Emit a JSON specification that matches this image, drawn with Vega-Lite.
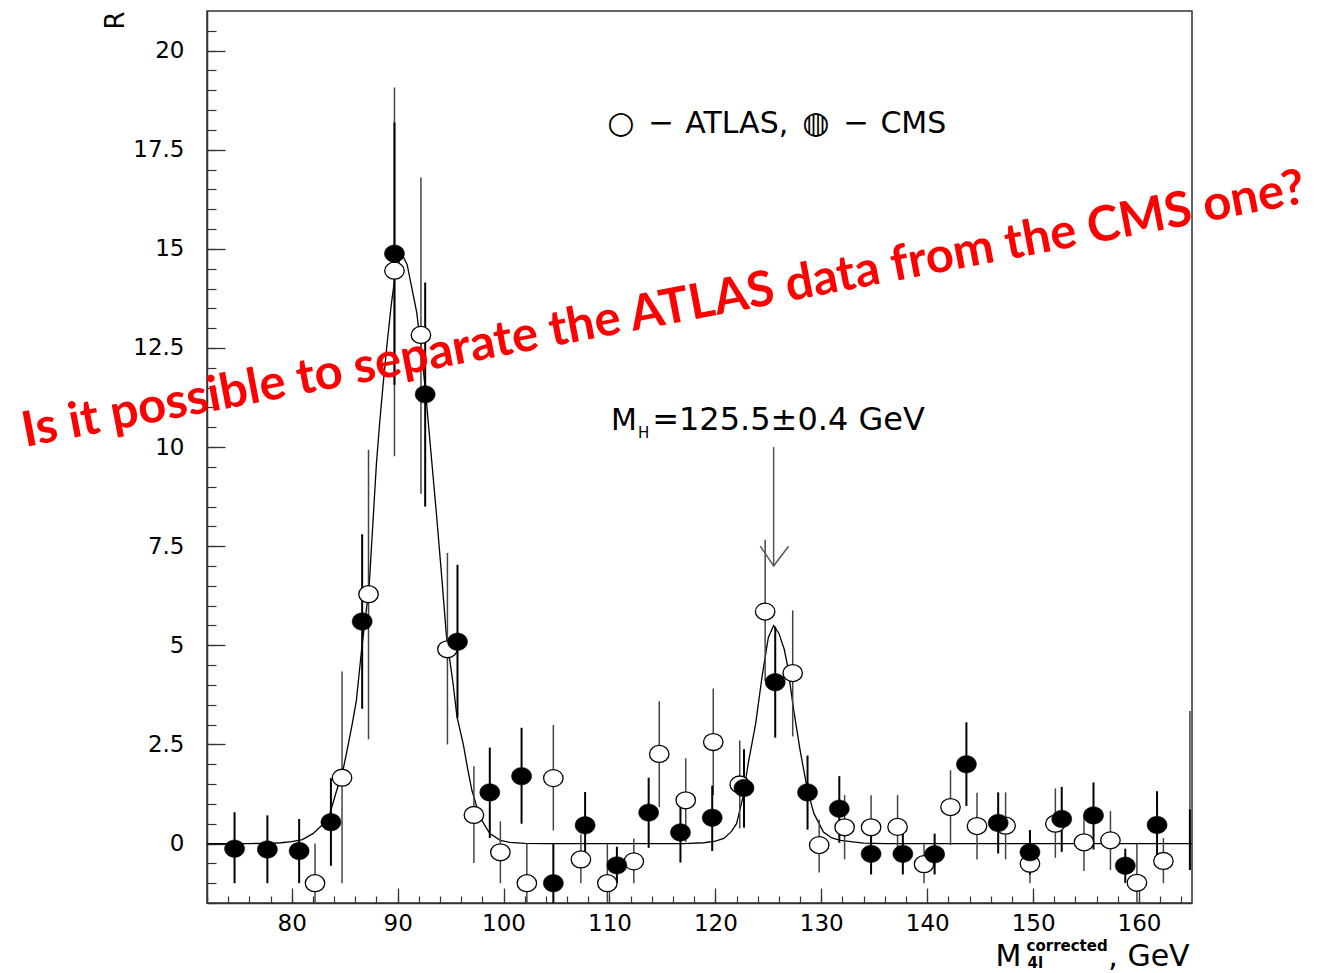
{
  "$schema": "https://vega.github.io/schema/vega-lite/v6.json",
  "width": 985,
  "height": 892,
  "autosize": "none",
  "padding": {"left": 207, "top": 11, "right": 130, "bottom": 70},
  "background": "white",
  "config": {"view": {"stroke": "#333333", "strokeWidth": 1.5}, "font": "DejaVu Sans"},
  "datasets": {
    "pts": [
      {"exp": "ATLAS", "x": 82.2, "y": -1.0, "lo": -2.0, "hi": 0.0},
      {"exp": "ATLAS", "x": 84.75, "y": 1.66, "lo": -1.0, "hi": 4.34},
      {"exp": "ATLAS", "x": 87.25, "y": 6.29, "lo": 2.63, "hi": 9.93},
      {"exp": "ATLAS", "x": 89.7, "y": 14.45, "lo": 9.77, "hi": 19.07},
      {"exp": "ATLAS", "x": 92.2, "y": 12.83, "lo": 8.82, "hi": 16.8},
      {"exp": "ATLAS", "x": 94.7, "y": 4.9, "lo": 2.5, "hi": 7.33},
      {"exp": "ATLAS", "x": 97.2, "y": 0.72, "lo": -0.49, "hi": 1.95},
      {"exp": "ATLAS", "x": 99.7, "y": -0.22, "lo": -1.0, "hi": 0.56},
      {"exp": "ATLAS", "x": 102.2, "y": -1.0, "lo": -2.0, "hi": 0.0},
      {"exp": "ATLAS", "x": 104.7, "y": 1.65, "lo": 0.33, "hi": 2.99},
      {"exp": "ATLAS", "x": 107.3, "y": -0.4, "lo": -1.0, "hi": 0.23},
      {"exp": "ATLAS", "x": 109.8, "y": -1.0, "lo": -2.0, "hi": 0.0},
      {"exp": "ATLAS", "x": 112.3, "y": -0.45, "lo": -1.0, "hi": 0.13},
      {"exp": "ATLAS", "x": 114.7, "y": 2.26, "lo": 0.92, "hi": 3.59},
      {"exp": "ATLAS", "x": 117.2, "y": 1.09, "lo": 0.04, "hi": 2.15},
      {"exp": "ATLAS", "x": 119.8, "y": 2.56, "lo": 1.22, "hi": 3.91},
      {"exp": "ATLAS", "x": 122.3, "y": 1.49, "lo": 0.38, "hi": 2.6},
      {"exp": "ATLAS", "x": 124.7, "y": 5.85, "lo": 4.1, "hi": 7.66},
      {"exp": "ATLAS", "x": 127.3, "y": 4.3, "lo": 2.7, "hi": 5.88},
      {"exp": "ATLAS", "x": 129.8, "y": -0.04, "lo": -0.73, "hi": 0.6},
      {"exp": "ATLAS", "x": 132.2, "y": 0.41, "lo": -0.4, "hi": 1.22},
      {"exp": "ATLAS", "x": 134.7, "y": 0.41, "lo": -0.4, "hi": 1.22},
      {"exp": "ATLAS", "x": 137.2, "y": 0.42, "lo": -0.4, "hi": 1.22},
      {"exp": "ATLAS", "x": 139.7, "y": -0.52, "lo": -1.0, "hi": 0.02},
      {"exp": "ATLAS", "x": 142.2, "y": 0.92, "lo": -0.04, "hi": 1.85},
      {"exp": "ATLAS", "x": 144.7, "y": 0.44, "lo": -0.4, "hi": 1.28},
      {"exp": "ATLAS", "x": 147.4, "y": 0.45, "lo": -0.4, "hi": 1.29},
      {"exp": "ATLAS", "x": 149.7, "y": -0.51, "lo": -1.0, "hi": 0.0},
      {"exp": "ATLAS", "x": 152.1, "y": 0.5, "lo": -0.36, "hi": 1.39},
      {"exp": "ATLAS", "x": 154.8, "y": 0.03, "lo": -0.69, "hi": 0.73},
      {"exp": "ATLAS", "x": 157.3, "y": 0.08, "lo": -0.67, "hi": 0.82},
      {"exp": "ATLAS", "x": 159.8, "y": -0.99, "lo": -2.0, "hi": 0.0},
      {"exp": "ATLAS", "x": 162.3, "y": -0.44, "lo": -1.0, "hi": 0.14},
      {"exp": "ATLAS", "x": 164.8, "y": null, "lo": -0.67, "hi": 3.34},
      {"exp": "CMS", "x": 74.6, "y": -0.13, "lo": -1.0, "hi": 0.79},
      {"exp": "CMS", "x": 77.7, "y": -0.15, "lo": -1.0, "hi": 0.71},
      {"exp": "CMS", "x": 80.7, "y": -0.19, "lo": -1.0, "hi": 0.62},
      {"exp": "CMS", "x": 83.7, "y": 0.54, "lo": -0.56, "hi": 1.65},
      {"exp": "CMS", "x": 86.65, "y": 5.6, "lo": 3.4, "hi": 7.8},
      {"exp": "CMS", "x": 89.7, "y": 14.88, "lo": 11.57, "hi": 18.19},
      {"exp": "CMS", "x": 92.6, "y": 11.33, "lo": 8.5, "hi": 14.15},
      {"exp": "CMS", "x": 95.65, "y": 5.09, "lo": 3.17, "hi": 7.03},
      {"exp": "CMS", "x": 98.7, "y": 1.29, "lo": 0.14, "hi": 2.42},
      {"exp": "CMS", "x": 101.7, "y": 1.7, "lo": 0.5, "hi": 2.92},
      {"exp": "CMS", "x": 104.7, "y": -1.0, "lo": -2.0, "hi": 0.0},
      {"exp": "CMS", "x": 107.7, "y": 0.46, "lo": -0.38, "hi": 1.3},
      {"exp": "CMS", "x": 110.7, "y": -0.55, "lo": -1.0, "hi": -0.08},
      {"exp": "CMS", "x": 113.7, "y": 0.78, "lo": -0.11, "hi": 1.66},
      {"exp": "CMS", "x": 116.7, "y": 0.28, "lo": -0.48, "hi": 1.01},
      {"exp": "CMS", "x": 119.7, "y": 0.65, "lo": -0.19, "hi": 1.46},
      {"exp": "CMS", "x": 122.7, "y": 1.4, "lo": 0.4, "hi": 2.38},
      {"exp": "CMS", "x": 125.65, "y": 4.07, "lo": 2.67, "hi": 5.47},
      {"exp": "CMS", "x": 128.7, "y": 1.29, "lo": 0.35, "hi": 2.22},
      {"exp": "CMS", "x": 131.7, "y": 0.88, "lo": 0.02, "hi": 1.7},
      {"exp": "CMS", "x": 134.7, "y": -0.26, "lo": -0.78, "hi": 0.26},
      {"exp": "CMS", "x": 137.7, "y": -0.26, "lo": -0.78, "hi": 0.26},
      {"exp": "CMS", "x": 140.7, "y": -0.27, "lo": -0.78, "hi": 0.25},
      {"exp": "CMS", "x": 143.7, "y": 2.0, "lo": 0.95, "hi": 3.06},
      {"exp": "CMS", "x": 146.7, "y": 0.52, "lo": -0.25, "hi": 1.29},
      {"exp": "CMS", "x": 149.7, "y": -0.22, "lo": -0.78, "hi": 0.34},
      {"exp": "CMS", "x": 152.7, "y": 0.62, "lo": -0.21, "hi": 1.43},
      {"exp": "CMS", "x": 155.7, "y": 0.71, "lo": -0.15, "hi": 1.54},
      {"exp": "CMS", "x": 158.7, "y": -0.56, "lo": -0.99, "hi": -0.13},
      {"exp": "CMS", "x": 161.7, "y": 0.47, "lo": -0.34, "hi": 1.32},
      {"exp": "CMS", "x": 164.8, "y": null, "lo": -0.67, "hi": 0.86}
    ],
    "fit": [
      {"x": 72, "y": 0}, {"x": 76, "y": 0}, {"x": 78, "y": 0.005}, {"x": 79, "y": 0.02},
      {"x": 80, "y": 0.05}, {"x": 81, "y": 0.1}, {"x": 82, "y": 0.25}, {"x": 83, "y": 0.5},
      {"x": 83.6, "y": 0.75}, {"x": 84.2, "y": 1.3}, {"x": 84.8, "y": 1.8}, {"x": 85.3, "y": 2.45},
      {"x": 85.7, "y": 3.0}, {"x": 86.1, "y": 3.6}, {"x": 86.6, "y": 4.9}, {"x": 87.0, "y": 5.8},
      {"x": 87.3, "y": 6.45}, {"x": 87.6, "y": 7.8}, {"x": 88.0, "y": 9.6}, {"x": 88.3, "y": 10.6},
      {"x": 88.6, "y": 11.5}, {"x": 89.0, "y": 12.6}, {"x": 89.4, "y": 13.6}, {"x": 89.8, "y": 14.4},
      {"x": 90.2, "y": 14.72}, {"x": 90.55, "y": 14.79}, {"x": 90.9, "y": 14.6}, {"x": 91.2, "y": 14.2},
      {"x": 91.8, "y": 13.4}, {"x": 92.3, "y": 12.3}, {"x": 92.7, "y": 11.2}, {"x": 93.2, "y": 9.7},
      {"x": 93.7, "y": 8.2}, {"x": 94.2, "y": 6.6}, {"x": 94.6, "y": 5.25}, {"x": 95.25, "y": 4.0},
      {"x": 95.6, "y": 3.2}, {"x": 96.2, "y": 2.5}, {"x": 96.6, "y": 1.9}, {"x": 97.0, "y": 1.35},
      {"x": 97.5, "y": 0.9}, {"x": 97.8, "y": 0.65}, {"x": 98.7, "y": 0.25}, {"x": 99.7, "y": 0.08},
      {"x": 100.6, "y": 0.03}, {"x": 102, "y": 0.005}, {"x": 104, "y": 0}, {"x": 117, "y": 0},
      {"x": 118.9, "y": 0.02}, {"x": 120, "y": 0.06}, {"x": 120.8, "y": 0.13}, {"x": 121.5, "y": 0.3},
      {"x": 122.0, "y": 0.5}, {"x": 122.6, "y": 1.17}, {"x": 123.1, "y": 2.02}, {"x": 123.8, "y": 3.02},
      {"x": 124.4, "y": 4.2}, {"x": 125.0, "y": 5.2}, {"x": 125.5, "y": 5.5}, {"x": 126.0, "y": 5.3},
      {"x": 126.5, "y": 4.9}, {"x": 126.8, "y": 4.5}, {"x": 127.4, "y": 3.36}, {"x": 128.0, "y": 2.35},
      {"x": 128.7, "y": 1.34}, {"x": 129.3, "y": 0.76}, {"x": 130.2, "y": 0.29}, {"x": 131.0, "y": 0.14},
      {"x": 131.8, "y": 0.08}, {"x": 134, "y": 0.01}, {"x": 136, "y": 0}, {"x": 165, "y": 0}
    ],
    "arrow": [
      {"part": "shaft", "o": 1, "x": 125.5, "y": 10.0},
      {"part": "shaft", "o": 2, "x": 125.5, "y": 7.0},
      {"part": "head", "o": 1, "x": 124.24, "y": 7.5},
      {"part": "head", "o": 2, "x": 125.5, "y": 7.0},
      {"part": "head", "o": 3, "x": 126.91, "y": 7.5}
    ]
  },
  "layer": [
    {
      "data": {"name": "fit"},
      "mark": {"type": "line", "color": "black", "strokeWidth": 1.3, "clip": true},
      "encoding": {
        "x": {"field": "x", "type": "quantitative",
          "scale": {"domain": [72, 165], "nice": false, "zero": false},
          "axis": {"orient": "bottom", "title": null, "labels": false, "domain": false, "grid": false,
            "tickSize": -7, "tickColor": "#333333", "tickWidth": 1.2,
            "values": [72,74,76,78,80,82,84,86,88,90,92,94,96,98,100,102,104,106,108,110,112,114,116,118,120,122,124,126,128,130,132,134,136,138,140,142,144,146,148,150,152,154,156,158,160,162,164]}},
        "y": {"field": "y", "type": "quantitative",
          "scale": {"domain": [-1.5, 21], "nice": false, "zero": false},
          "axis": {"orient": "left", "title": null, "labels": false, "domain": false, "grid": false,
            "tickSize": -9, "tickColor": "#333333", "tickWidth": 1.2,
            "values": [-1.5,-1,-0.5,0,0.5,1,1.5,2,2.5,3,3.5,4,4.5,5,5.5,6,6.5,7,7.5,8,8.5,9,9.5,10,10.5,11,11.5,12,12.5,13,13.5,14,14.5,15,15.5,16,16.5,17,17.5,18,18.5,19,19.5,20,20.5]}}
      }
    },
    {
      "data": {"name": "pts"},
      "transform": [{"filter": "datum.exp == 'ATLAS'"}],
      "mark": {"type": "rule", "color": "#444444", "strokeWidth": 1.5, "clip": true},
      "encoding": {
        "x": {"field": "x", "type": "quantitative",
          "axis": {"orient": "bottom", "title": null, "grid": false, "domain": true, "domainColor": "#333333", "domainWidth": 1.5,
            "tickSize": -15, "tickColor": "#333333", "tickWidth": 1.3, "labelPadding": 24,
            "labelFont": "DejaVu Sans", "labelFontSize": 23, "labelColor": "black",
            "values": [80,90,100,110,120,130,140,150,160]}},
        "y": {"field": "lo", "type": "quantitative",
          "axis": {"orient": "left", "title": "R", "grid": false, "domain": true, "domainColor": "#333333", "domainWidth": 1.5,
            "tickSize": -18, "tickColor": "#333333", "tickWidth": 1.3, "labelPadding": 41, "format": ".1~f",
            "labelFont": "DejaVu Sans", "labelFontSize": 23, "labelColor": "black",
            "titleFont": "DejaVu Sans", "titleFontSize": 26, "titleFontWeight": "normal", "titleColor": "black",
            "titleAngle": -90, "titleX": -92, "titleY": 9, "titleAlign": "center", "titleBaseline": "middle",
            "values": [0,2.5,5,7.5,10,12.5,15,17.5,20]}},
        "y2": {"field": "hi"}
      }
    },
    {
      "data": {"name": "pts"},
      "transform": [{"filter": "datum.exp == 'CMS'"}],
      "mark": {"type": "rule", "color": "black", "strokeWidth": 2, "clip": true},
      "encoding": {
        "x": {"field": "x", "type": "quantitative", "axis": null},
        "y": {"field": "lo", "type": "quantitative", "axis": null},
        "y2": {"field": "hi"}
      }
    },
    {
      "data": {"name": "pts"},
      "transform": [{"filter": "datum.exp == 'ATLAS' && isValid(datum.y)"}],
      "mark": {"type": "point", "shape": "M-1,0A1,0.87,0,1,1,1,0A1,0.87,0,1,1,-1,0Z", "size": 380,
        "filled": true, "fill": "white", "stroke": "black", "strokeWidth": 1.3, "opacity": 1},
      "encoding": {
        "x": {"field": "x", "type": "quantitative", "axis": null},
        "y": {"field": "y", "type": "quantitative", "axis": null}
      }
    },
    {
      "data": {"name": "pts"},
      "transform": [{"filter": "datum.exp == 'CMS' && isValid(datum.y)"}],
      "mark": {"type": "point", "shape": "M-1,0A1,0.87,0,1,1,1,0A1,0.87,0,1,1,-1,0Z", "size": 400,
        "filled": true, "fill": "black", "stroke": "black", "strokeWidth": 0.5, "opacity": 1},
      "encoding": {
        "x": {"field": "x", "type": "quantitative", "axis": null},
        "y": {"field": "y", "type": "quantitative", "axis": null}
      }
    },
    {
      "data": {"name": "arrow"},
      "mark": {"type": "line", "color": "#555555", "strokeWidth": 1.5},
      "encoding": {
        "x": {"field": "x", "type": "quantitative", "axis": null},
        "y": {"field": "y", "type": "quantitative", "axis": null},
        "detail": {"field": "part"},
        "order": {"field": "o"}
      }
    },
    {
      "data": {"values": [
        {"x": 111.06, "y": 17.93, "label": "○"},
        {"x": 114.88, "y": 17.93, "label": "−"},
        {"x": 129.49, "y": 17.93, "label": "◍"},
        {"x": 133.31, "y": 17.93, "label": "−"}
      ]},
      "mark": {"type": "text", "font": "DejaVu Sans", "fontSize": 31, "color": "black", "align": "center", "baseline": "alphabetic"},
      "encoding": {
        "x": {"field": "x", "type": "quantitative", "axis": null},
        "y": {"field": "y", "type": "quantitative", "axis": null},
        "text": {"field": "label"}
      }
    },
    {
      "data": {"values": [
        {"x": 117.15, "y": 17.93, "label": "ATLAS,"},
        {"x": 135.58, "y": 17.93, "label": "CMS"},
        {"x": 110.15, "y": 10.42, "label": "M"},
        {"x": 146.45, "y": -3.09, "label": "M"},
        {"x": 157.1, "y": -3.09, "label": ", GeV"}
      ]},
      "mark": {"type": "text", "font": "DejaVu Sans", "fontSize": 30, "color": "black", "align": "left", "baseline": "alphabetic"},
      "encoding": {
        "x": {"field": "x", "type": "quantitative", "axis": null},
        "y": {"field": "y", "type": "quantitative", "axis": null},
        "text": {"field": "label"}
      }
    },
    {
      "data": {"values": [
        {"x": 114.03, "y": 10.42, "label": "=125.5±0.4 GeV"}
      ]},
      "mark": {"type": "text", "font": "DejaVu Sans", "fontSize": 32, "color": "black", "align": "left", "baseline": "alphabetic"},
      "encoding": {
        "x": {"field": "x", "type": "quantitative", "axis": null},
        "y": {"field": "y", "type": "quantitative", "axis": null},
        "text": {"field": "label"}
      }
    },
    {
      "data": {"values": [
        {"x": 112.7, "y": 10.24, "label": "H"}
      ]},
      "mark": {"type": "text", "font": "DejaVu Sans", "fontSize": 15, "color": "black", "align": "left", "baseline": "alphabetic"},
      "encoding": {
        "x": {"field": "x", "type": "quantitative", "axis": null},
        "y": {"field": "y", "type": "quantitative", "axis": null},
        "text": {"field": "label"}
      }
    },
    {
      "data": {"values": [
        {"x": 149.38, "y": -2.7, "label": "corrected"},
        {"x": 149.47, "y": -3.14, "label": "4l"}
      ]},
      "mark": {"type": "text", "font": "DejaVu Sans", "fontWeight": "bold", "fontSize": 15, "color": "black", "align": "left", "baseline": "alphabetic"},
      "encoding": {
        "x": {"field": "x", "type": "quantitative", "axis": null},
        "y": {"field": "y", "type": "quantitative", "axis": null},
        "text": {"field": "label"}
      }
    },
    {
      "data": {"values": [
        {"x": 115.36, "y": 13.09, "label": "Is it possible to separate the ATLAS data from  the CMS one?"}
      ]},
      "mark": {"type": "text", "font": "Lato", "fontWeight": "bold", "fontSize": 49, "color": "#FF0000", "align": "center", "baseline": "alphabetic", "angle": -10.8},
      "encoding": {
        "x": {"field": "x", "type": "quantitative", "axis": null},
        "y": {"field": "y", "type": "quantitative", "axis": null},
        "text": {"field": "label"}
      }
    }
  ],
  "resolve": {"axis": {"x": "independent", "y": "independent"}}
}
